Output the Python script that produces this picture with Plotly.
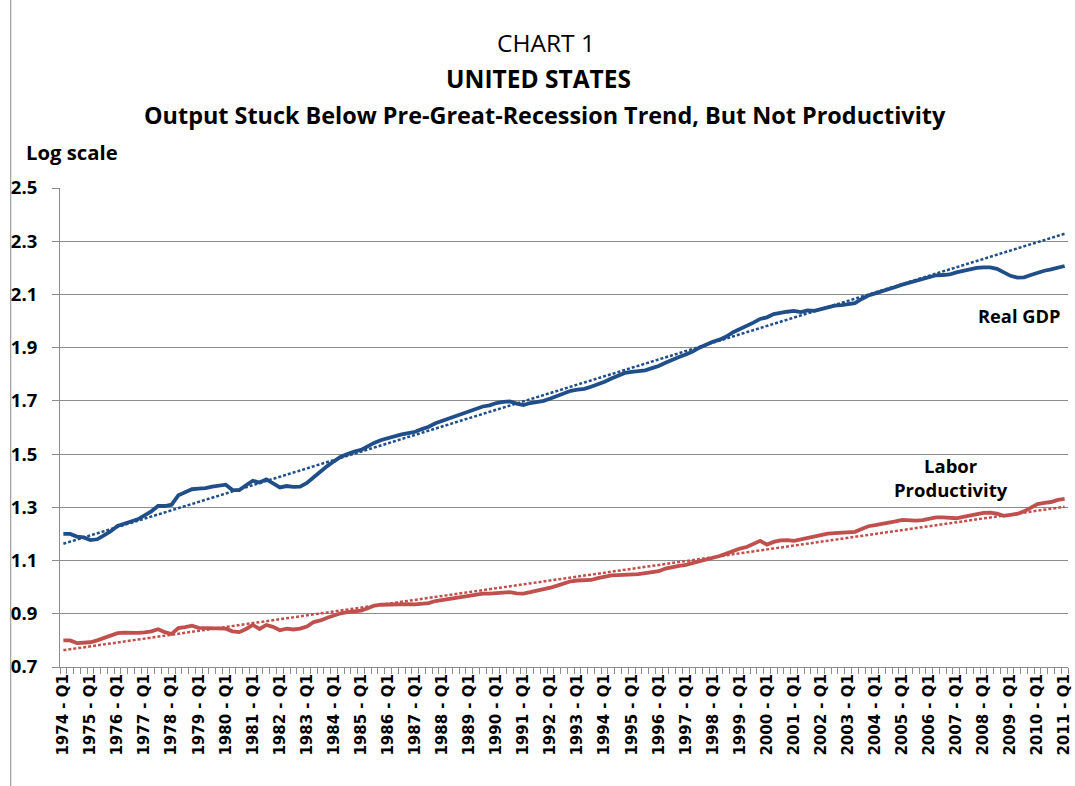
import plotly.graph_objects as go

# ---------------- data ----------------
years = list(range(1974, 2012))
quarters = [f"{y} - Q{q}" for y in years for q in (1, 2, 3, 4)][:149]  # 1974 Q1 .. 2011 Q1

real_gdp = [
    1.200, 1.200, 1.190, 1.187,   # 1974
    1.177, 1.180, 1.195, 1.210,   # 1975
    1.230, 1.240, 1.247, 1.255,   # 1976
    1.270, 1.285, 1.305, 1.305,   # 1977
    1.310, 1.345, 1.357, 1.368,   # 1978
    1.370, 1.372, 1.378, 1.382,   # 1979
    1.385, 1.365, 1.365, 1.383,   # 1980
    1.400, 1.393, 1.405, 1.390,   # 1981
    1.375, 1.380, 1.377, 1.378,   # 1982
    1.392, 1.413, 1.435, 1.455,   # 1983
    1.473, 1.490, 1.500, 1.510,   # 1984
    1.516, 1.530, 1.543, 1.553,   # 1985
    1.561, 1.568, 1.574, 1.579,   # 1986
    1.584, 1.594, 1.603, 1.616,   # 1987
    1.625, 1.634, 1.642, 1.652,   # 1988
    1.662, 1.671, 1.679, 1.683,   # 1989
    1.692, 1.696, 1.698, 1.690,   # 1990
    1.684, 1.692, 1.696, 1.700,   # 1991
    1.709, 1.718, 1.728, 1.738,   # 1992
    1.742, 1.745, 1.753, 1.762,   # 1993
    1.772, 1.784, 1.795, 1.805,   # 1994
    1.809, 1.811, 1.815, 1.823,   # 1995
    1.831, 1.843, 1.855, 1.865,   # 1996
    1.874, 1.885, 1.900, 1.912,   # 1997
    1.922, 1.930, 1.942, 1.958,   # 1998
    1.970, 1.980, 1.994, 2.008,   # 1999
    2.014, 2.026, 2.032, 2.035,   # 2000
    2.038, 2.034, 2.040, 2.038,   # 2001
    2.045, 2.052, 2.058, 2.060,   # 2002
    2.062, 2.067, 2.083, 2.096,   # 2003
    2.104, 2.111, 2.120, 2.128,   # 2004
    2.137, 2.144, 2.151, 2.159,   # 2005
    2.167, 2.172, 2.173, 2.175,   # 2006
    2.183, 2.189, 2.195, 2.200,   # 2007
    2.202, 2.202, 2.196, 2.182,   # 2008
    2.170, 2.163, 2.164, 2.173,   # 2009
    2.182, 2.189, 2.194, 2.200,   # 2010
    2.207,                        # 2011
]

labor_productivity = [
    0.800, 0.800, 0.790, 0.791,   # 1974
    0.793, 0.800, 0.808, 0.818,   # 1975
    0.827, 0.829, 0.828, 0.828,   # 1976
    0.830, 0.834, 0.842, 0.831,   # 1977
    0.824, 0.846, 0.850, 0.855,   # 1978
    0.847, 0.846, 0.846, 0.845,   # 1979
    0.844, 0.834, 0.831, 0.843,   # 1980
    0.858, 0.843, 0.858, 0.851,   # 1981
    0.838, 0.844, 0.841, 0.844,   # 1982
    0.852, 0.869, 0.875, 0.885,   # 1983
    0.895, 0.902, 0.906, 0.909,   # 1984
    0.912, 0.921, 0.931, 0.934,   # 1985
    0.935, 0.936, 0.937, 0.936,   # 1986
    0.935, 0.937, 0.940, 0.948,   # 1987
    0.952, 0.955, 0.960, 0.965,   # 1988
    0.969, 0.973, 0.976, 0.976,   # 1989
    0.977, 0.979, 0.981, 0.977,   # 1990
    0.976, 0.981, 0.986, 0.991,   # 1991
    0.998, 1.006, 1.014, 1.022,   # 1992
    1.025, 1.025, 1.027, 1.034,   # 1993
    1.039, 1.044, 1.045, 1.046,   # 1994
    1.046, 1.049, 1.053, 1.057,   # 1995
    1.060, 1.070, 1.076, 1.080,   # 1996
    1.084, 1.090, 1.097, 1.104,   # 1997
    1.111, 1.117, 1.126, 1.137,   # 1998
    1.145, 1.151, 1.162, 1.174,   # 1999
    1.160, 1.170, 1.176, 1.177,   # 2000
    1.174, 1.180, 1.183, 1.190,   # 2001
    1.196, 1.201, 1.203, 1.204,   # 2002
    1.206, 1.208, 1.219, 1.229,   # 2003
    1.233, 1.237, 1.241, 1.247,   # 2004
    1.253, 1.250, 1.250, 1.252,   # 2005
    1.257, 1.262, 1.262, 1.261,   # 2006
    1.259, 1.264, 1.270, 1.276,   # 2007
    1.279, 1.280, 1.276, 1.268,   # 2008
    1.270, 1.275, 1.285, 1.300,   # 2009
    1.312, 1.317, 1.320, 1.328,   # 2010
    1.332,                        # 2011
]

# trend lines (straight lines: values at first and last quarter)
gdp_trend_ends = [1.163, 2.328]
lp_trend_ends = [0.763, 1.302]

y_ticks = [0.7, 0.9, 1.1, 1.3, 1.5, 1.7, 1.9, 2.1, 2.3, 2.5]

# ---------------- figure ----------------
BLUE = "#1F4E89"
RED = "#C0504D"
GRID = "#8C8C8C"
FONT = "Open Sans"
XFONT = "DejaVu Sans"

idx = list(range(len(quarters)))
ends = [idx[0], idx[-1]]

fig = go.Figure()
fig.add_trace(go.Scatter(x=ends, y=gdp_trend_ends, mode="lines",
                         line=dict(color=BLUE, width=2.5, dash="3px,2px"),
                         hoverinfo="skip", showlegend=False))
fig.add_trace(go.Scatter(x=ends, y=lp_trend_ends, mode="lines",
                         line=dict(color=RED, width=2.5, dash="3px,2px"),
                         hoverinfo="skip", showlegend=False))
fig.add_trace(go.Scatter(x=idx, y=real_gdp, mode="lines", name="Real GDP",
                         text=quarters, line=dict(color=BLUE, width=3.8),
                         showlegend=False))
fig.add_trace(go.Scatter(x=idx, y=labor_productivity, mode="lines",
                         name="Labor Productivity", text=quarters,
                         line=dict(color=RED, width=3.8), showlegend=False))

W, H = 1075, 786
L, R, T, B = 60, 2, 188, 119
pw, ph = W - L - R, H - T - B


def px(x):
    return (x - L) / pw


def py(y):
    return 1 - (y - T) / ph


def note(text, x, y, size, xanchor="center", bold=True):
    return dict(text=f"<b>{text}</b>" if bold else text, x=px(x), y=py(y),
                xref="paper", yref="paper", xanchor=xanchor, yanchor="middle",
                showarrow=False, align="center",
                font=dict(family=FONT, size=size, color="black"))


fig.update_layout(
    width=W, height=H,
    margin=dict(l=L, r=R, t=T, b=B),
    paper_bgcolor="white", plot_bgcolor="white",
    font=dict(family=FONT, color="black"),
    xaxis=dict(
        range=[-0.5, len(quarters) - 0.5],
        tickmode="array",
        tickvals=idx[::4],
        ticktext=quarters[::4],
        tickangle=-90,
        tickfont=dict(family=XFONT, size=15, color="black", weight="bold"),
        ticks="outside", ticklen=0, tickcolor=GRID,
        ticklabeloverflow="allow",
        minor=dict(ticks="outside", ticklen=6, tickcolor=GRID, dtick=1,
                   tick0=-0.5, tickwidth=1, showgrid=False),
        showline=True, linecolor=GRID, linewidth=1,
        showgrid=False, zeroline=False,
    ),
    yaxis=dict(
        range=[0.7, 2.5],
        tickvals=y_ticks,
        tickformat=".1f",
        tickfont=dict(family=FONT, size=18.5, color="black", weight="bold"),
        ticks="outside", ticklen=7, tickcolor=GRID,
        ticklabelstandoff=11,
        showline=True, linecolor=GRID, linewidth=1,
        showgrid=True, gridcolor=GRID, gridwidth=1,
        zeroline=False,
    ),
    annotations=[
        note("CHART 1", 548, 42, 24.5, bold=False),
        note("UNITED STATES", 541, 78, 24.5),
        note("Output Stuck Below Pre-Great-Recession Trend, But Not Productivity", 547, 115, 23.4),
        note("Log scale", 24, 152, 20.3, xanchor="left"),
        note("Real GDP", 1024, 315, 18.3),
        note("Labor<br>Productivity", 955, 477, 18.5),
    ],
    shapes=[
        dict(type="line", xref="paper", yref="paper", x0=px(10.5), x1=px(10.5),
             y0=py(0), y1=py(H), line=dict(color=GRID, width=1)),
    ],
)

fig.write_html("out.html", config={"displayModeBar": False},
               post_script="document.body.style.margin='0';document.body.style.padding='0';")
